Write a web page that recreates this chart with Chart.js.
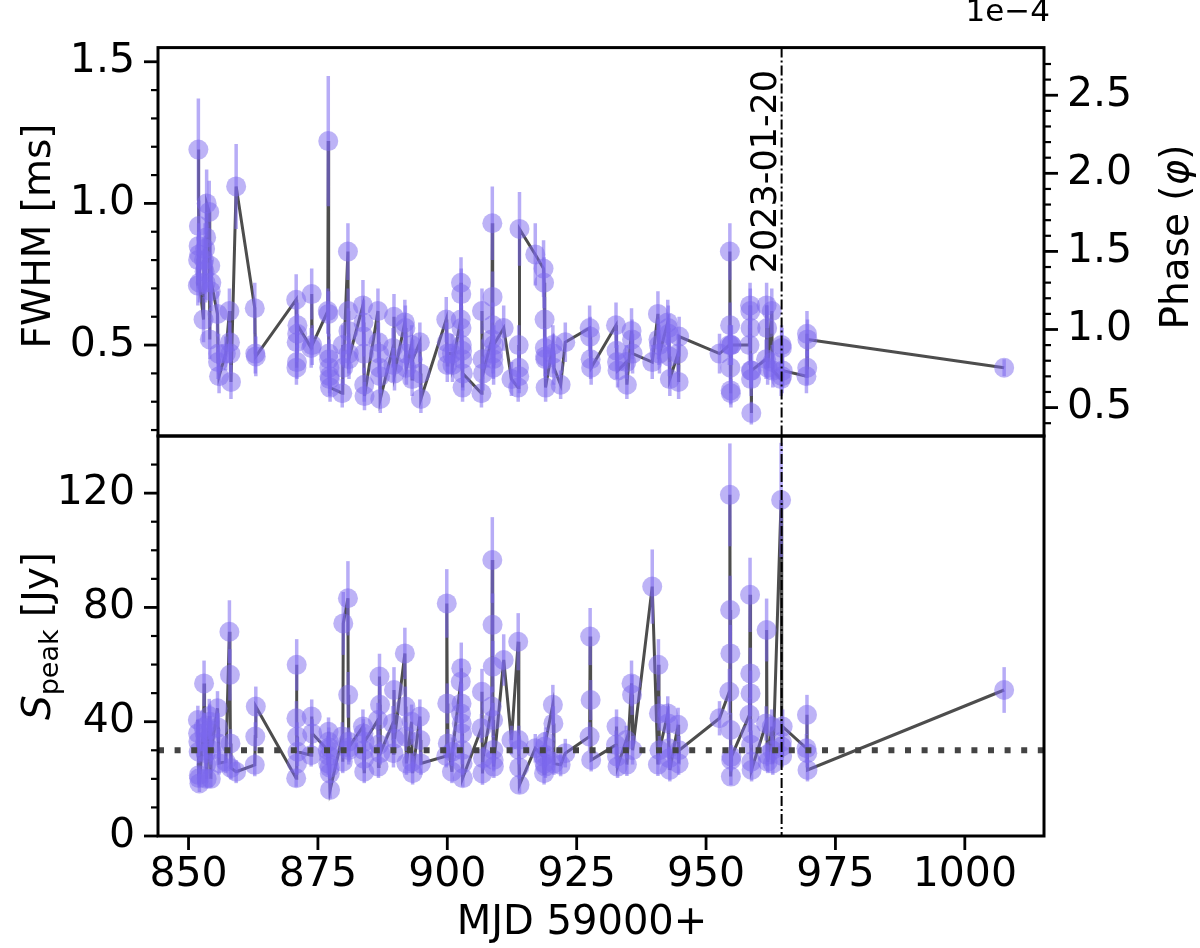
<!DOCTYPE html>
<html>
<head>
<meta charset="utf-8">
<script src="https://cdn.jsdelivr.net/npm/chart.js@4.4.1/dist/chart.umd.min.js"></script>
<style>
  html, body { margin: 0; background: #fff; }
  #wrap { position: relative; width: 1200px; height: 948px; }
  #wrap canvas { position: absolute; left: 0; top: 0; }
</style>
</head>
<body>
<div id="wrap">
  <canvas id="fwhmChart" width="1200" height="948"></canvas>
  <canvas id="speakChart" width="1200" height="948"></canvas>
</div>
<script>
// burst epochs (MJD - 59000), widths, peak flux densities and their errors
const mjd = [
  851.8, 851.85, 851.9, 851.95, 852.0, 852.05, 852.1,
  852.9, 853.0, 853.1, 853.2, 853.3, 853.4, 853.5,
  854.0, 854.1, 854.2, 854.3, 854.4,
  855.6, 855.7, 855.8, 855.9,
  857.2, 857.9, 858.0, 858.1, 858.2, 859.2,
  862.8, 862.9, 863.0,
  870.8, 870.85, 870.9, 870.95, 871.0, 871.05,
  873.7, 873.8, 873.9,
  876.9, 877.0, 877.05, 877.1, 877.15, 877.2, 877.25, 877.3, 877.35,
  879.7, 879.8, 879.9, 880.8, 880.85, 880.9, 880.95, 881.0,
  883.7, 883.8, 883.85, 883.9, 883.95, 884.0,
  886.6, 886.7, 886.8, 886.9, 887.0, 887.05,
  889.5, 889.6, 889.7, 889.8,
  891.8, 891.9, 892.0, 892.1,
  893.1, 893.2, 893.3,
  894.7, 894.8, 894.9,
  899.8, 899.9, 900.0, 900.1, 900.9, 901.0,
  902.6, 902.65, 902.7, 902.75, 902.8, 902.85, 902.9, 902.95, 903.0,
  906.6, 906.7, 906.8, 906.9,
  908.6, 908.7, 908.75, 908.8, 908.85, 908.9, 908.95, 909.0,
  910.9, 912.4,
  913.7, 913.8, 913.85, 913.9, 913.95,
  917.0, 918.6, 918.7, 918.8, 918.85, 918.9, 918.95, 919.0,
  920.4, 920.5, 920.6, 921.9, 922.8,
  927.5, 927.6, 927.7, 927.8,
  932.6, 932.7, 932.8, 932.9,
  934.6, 934.7, 935.6, 935.7, 935.8,
  939.6, 940.7, 940.8, 940.9, 941.0,
  942.6, 942.7, 942.8, 942.9, 943.0, 944.6, 944.7, 944.8,
  952.6,
  954.5, 954.6, 954.65, 954.7, 954.75, 954.8, 954.85, 954.9,
  958.4, 958.5, 958.55, 958.6, 958.65, 958.7, 958.75, 958.8,
  961.6, 961.7, 961.8, 961.9, 962.7, 962.8, 962.9,
  964.5, 964.6, 964.65, 964.7, 964.8,
  969.4, 969.5, 969.55, 969.6,
  1007.6
];
const fwhm = [
  0.71, 0.80, 1.19, 0.85, 0.92, 0.82, 0.72,
  0.59, 0.80, 0.76, 0.84, 0.72, 0.88, 1.00,
  0.97, 0.52, 0.78, 0.69, 0.72,
  0.61, 0.44, 0.47, 0.39,
  0.47, 0.62, 0.51, 0.47, 0.37, 1.06,
  0.63, 0.47, 0.46,
  0.66, 0.42, 0.51, 0.44, 0.54, 0.57,
  0.49, 0.68, 0.50,
  0.62, 1.22, 0.61, 0.47, 0.45, 0.42, 0.39, 0.38, 0.35,
  0.33, 0.50, 0.42, 0.83, 0.62, 0.55, 0.47, 0.45,
  0.64, 0.58, 0.53, 0.47, 0.36, 0.32,
  0.62, 0.51, 0.47, 0.42, 0.39, 0.31,
  0.49, 0.43, 0.60, 0.40,
  0.58, 0.56, 0.47, 0.42,
  0.50, 0.38, 0.45,
  0.51, 0.40, 0.31,
  0.59, 0.51, 0.43, 0.47, 0.47, 0.43,
  0.59, 0.72, 0.68, 0.56, 0.50, 0.48, 0.45, 0.35, 0.40,
  0.33, 0.62, 0.45, 0.40,
  0.52, 0.93, 0.67, 0.57, 0.47, 0.45, 0.42, 0.50,
  0.56, 0.38,
  0.35, 0.50, 0.42, 0.39, 0.91,
  0.82, 0.77, 0.72, 0.59, 0.49, 0.46, 0.45, 0.35,
  0.50, 0.47, 0.42, 0.36, 0.51,
  0.56, 0.53, 0.45, 0.42,
  0.57, 0.48, 0.44, 0.41,
  0.44, 0.36, 0.55, 0.52, 0.47,
  0.44, 0.61, 0.52, 0.50, 0.47,
  0.58, 0.56, 0.54, 0.46, 0.38, 0.47, 0.37, 0.53,
  0.47,
  0.50, 0.83, 0.57, 0.42, 0.34, 0.33, 0.50, 0.50,
  0.50, 0.64, 0.62, 0.56, 0.41, 0.38, 0.26, 0.41,
  0.45, 0.64, 0.56, 0.42, 0.62, 0.44, 0.41,
  0.38, 0.50, 0.49, 0.39, 0.41,
  0.39, 0.54, 0.42, 0.52,
  0.42
];
const fwhmErr = [
  .07, .08, .18, .08, .09, .08, .07,
  .08, .08, .08, .09, .07, .09, .12,
  .11, .07, .08, .07, .08,
  .08, .06, .07, .06,
  .06, .08, .07, .07, .06, .15,
  .09, .07, .07,
  .09, .06, .07, .06, .07, .08,
  .07, .09, .07,
  .08, .23, .08, .07, .07, .06, .06, .06, .05,
  .05, .07, .06, .10, .08, .08, .07, .07,
  .09, .08, .07, .07, .06, .05,
  .08, .07, .07, .06, .06, .05,
  .07, .06, .08, .06,
  .08, .08, .07, .06,
  .07, .06, .07,
  .07, .06, .05,
  .08, .07, .06, .07, .07, .06,
  .08, .09, .09, .08, .07, .07, .07, .05, .06,
  .05, .08, .07, .06,
  .07, .13, .09, .08, .07, .07, .06, .07,
  .08, .06,
  .05, .07, .06, .06, .13,
  .11, .10, .09, .08, .07, .07, .07, .05,
  .07, .07, .06, .05, .07,
  .08, .07, .07, .06,
  .08, .07, .06, .06,
  .06, .05, .08, .07, .07,
  .06, .08, .07, .07, .07,
  .08, .08, .07, .07, .06, .07, .06, .07,
  .07,
  .07, .10, .08, .06, .05, .05, .07, .07,
  .07, .08, .08, .08, .06, .06, .04, .06,
  .07, .08, .08, .06, .08, .06, .06,
  .06, .07, .07, .06, .06,
  .06, .08, .06, .07,
  .03
];
const speak = [
  40.6, 36.0, 33.0, 29.5, 21.3, 20.2, 18.4,
  38.0, 53.4, 36.0, 33.0, 29.0, 25.0, 20.0,
  42.0, 40.0, 37.0, 20.0, 30.0,
  44.7, 38.0, 32.4, 25.5,
  26.0, 71.5, 56.4, 32.4, 23.8, 22.5,
  24.9, 34.8, 45.3,
  20.2, 41.2, 59.9, 25.4, 34.8, 29.5,
  28.3, 41.8, 35.9,
  30.1, 25.4, 36.5, 33.0, 28.0, 31.0, 24.0, 21.9, 16.1,
  34.8, 26.0, 74.4, 83.2, 49.4, 33.0, 30.0, 31.0,
  38.3, 35.9, 30.0, 27.0, 22.5, 33.0,
  40.6, 24.3, 32.0, 55.8, 45.9, 29.0,
  39.5, 29.0, 51.1, 34.0,
  63.9, 45.3, 34.8, 25.4,
  40.0, 26.0, 22.0,
  41.8, 33.6, 25.4,
  28.0, 81.4, 46.4, 32.4, 22.5, 29.5,
  54.0, 42.9, 58.7, 46.4, 39.4, 35.9, 30.1, 25.4, 20.2,
  37.7, 50.5, 21.9, 27.2,
  45.3, 96.6, 73.9, 59.3, 40.6, 30.1, 26.6, 24.3,
  61.6, 33.6,
  68.0, 33.6, 30.1, 24.0, 17.9,
  30.7, 27.8, 22.0, 25.4, 31.3, 28.4, 24.3, 33.0,
  45.9, 39.4, 25.4, 24.9, 29.0,
  34.8, 69.8, 47.6, 26.6,
  31.9, 38.3, 27.8, 24.3,
  33.6, 25.0, 53.4, 49.4, 30.0,
  87.3, 25.0, 59.9, 42.9, 30.0,
  42.9, 39.4, 30.7, 27.2, 23.1, 38.9, 25.4, 30.0,
  41.2,
  50.5, 119.4, 79.1, 63.9, 37.1, 20.8, 26.6, 27.8,
  42.4, 84.4, 56.9, 49.9, 35.9, 31.9, 26.0, 23.1,
  39.4, 72.1, 28.4, 26.0, 38.3, 30.0, 25.4,
  117.6, 31.3, 33.0, 28.0, 38.3,
  30.7, 42.4, 29.0, 23.1,
  51.1
];
const speakErr = [
  5, 5, 5, 4, 3, 3, 3,
  5, 8, 5, 5, 5, 4, 3,
  6, 6, 5, 3, 5,
  6, 5, 5, 4,
  4, 11, 9, 5, 4, 4,
  4, 5, 7,
  3, 6, 9, 4, 5, 5,
  4, 6, 5,
  5, 4, 5, 5, 4, 5, 4, 3, 3,
  5, 4, 11, 13, 8, 5, 5, 5,
  6, 5, 5, 4, 4, 5,
  6, 4, 5, 8, 7, 4,
  6, 5, 8, 5,
  9, 7, 5, 4,
  6, 4, 4,
  6, 5, 4,
  4, 12, 7, 5, 4, 5,
  8, 6, 9, 7, 6, 5, 5, 4, 3,
  5, 8, 4, 4,
  7, 15, 11, 9, 6, 5, 4, 4,
  9, 5,
  10, 5, 5, 4, 3,
  5, 4, 4, 4, 5, 4, 4, 5,
  7, 6, 4, 4, 5,
  5, 10, 7, 4,
  5, 6, 4, 4,
  5, 4, 8, 7, 5,
  13, 4, 9, 6, 5,
  6, 6, 5, 4, 4, 6, 4, 5,
  6,
  8, 18, 12, 10, 6, 3, 4, 4,
  6, 13, 9, 8, 5, 5, 4, 4,
  6, 11, 4, 4, 6, 5, 4,
  20, 5, 5, 4, 6,
  5, 7, 5, 4,
  8
];

const xTicks = [850, 875, 900, 925, 950, 975, 1000];
const fwhmTicks = [0.5, 1.0, 1.5];
const fwhmMinor = [0.2, 0.3, 0.4, 0.6, 0.7, 0.8, 0.9, 1.1, 1.2, 1.3, 1.4];
const phaseTicks = [0.5, 1.0, 1.5, 2.0, 2.5];
const phaseMinor = [0.4, 0.6, 0.7, 0.8, 0.9, 1.1, 1.2, 1.3, 1.4, 1.6, 1.7, 1.8, 1.9,
                    2.1, 2.2, 2.3, 2.4, 2.6, 2.7];
const speakTicks = [0, 40, 80, 120];
const speakMinor = [10, 20, 30, 50, 60, 70, 90, 100, 110, 130];

const eventMjd = 964.6;
const eventLabel = '2023-01-20';
const thresholdJy = 30;

// axis limits
const X_MIN = 844.1, X_MAX = 1015.3;
const FWHM_MIN = 0.179, FWHM_MAX = 1.55;
const PHASE_MIN = 0.318, PHASE_MAX = 2.805;
const S_MIN = 0, S_MAX = 140;

const FONT = 'DejaVu Sans';
const PURPLE = 'rgba(123, 104, 238, 0.5)';
const BAR = 'rgba(123, 104, 238, 0.55)';
const GREY = '#4d4d4d';
const TITLE_FONT = '39px "' + FONT + '"';

Chart.defaults.font.family = FONT;

function rotatedText(ctx, cx, cy, parts) {
  // parts drawn along a line that reads bottom -> top, centred on (cx, cy)
  ctx.save();
  ctx.translate(cx, cy);
  ctx.rotate(-Math.PI / 2);
  ctx.textBaseline = 'alphabetic';
  ctx.textAlign = 'left';
  let total = 0;
  parts.forEach(p => { ctx.font = p.font; p.w = ctx.measureText(p.text).width; total += p.w; });
  let x = -total / 2;
  parts.forEach(p => {
    ctx.font = p.font;
    ctx.fillStyle = '#000';
    ctx.fillText(p.text, x, p.dy || 0);
    x += p.w;
  });
  ctx.restore();
}

function drawTicks(ctx, scale, values, len, width, side, area) {
  ctx.save();
  ctx.strokeStyle = '#000';
  ctx.lineWidth = width;
  values.forEach(v => {
    const p = scale.getPixelForValue(v);
    ctx.beginPath();
    if (side === 'left') { ctx.moveTo(area.left - len, p); ctx.lineTo(area.left, p); }
    if (side === 'right') { ctx.moveTo(area.right, p); ctx.lineTo(area.right + len, p); }
    if (side === 'bottom') { ctx.moveTo(p, area.bottom); ctx.lineTo(p, area.bottom + len); }
    ctx.stroke();
  });
  ctx.restore();
}

const panelDecor = {
  id: 'panelDecor',
  beforeDatasetDraw(chart, args, opts) {
    if (args.index !== 1) return;
    const { ctx, chartArea: a } = chart;
    const x = chart.scales.x, y = chart.scales.y;
    ctx.save();
    ctx.beginPath();
    ctx.rect(a.left, a.top, a.right - a.left, a.bottom - a.top);
    ctx.clip();
    ctx.strokeStyle = BAR;
    ctx.lineWidth = 3.5;
    ctx.lineCap = 'butt';
    opts.vals.forEach((v, i) => {
      const px = x.getPixelForValue(mjd[i]);
      ctx.beginPath();
      ctx.moveTo(px, y.getPixelForValue(v - opts.err[i]));
      ctx.lineTo(px, y.getPixelForValue(v + opts.err[i]));
      ctx.stroke();
    });
    ctx.restore();
  },
  afterDatasetsDraw(chart, args, opts) {
    const { ctx, chartArea: a } = chart;
    const x = chart.scales.x, y = chart.scales.y;
    ctx.save();
    if (opts.threshold !== undefined) {
      const py = y.getPixelForValue(opts.threshold);
      ctx.strokeStyle = '#444444';
      ctx.lineWidth = 6;
      ctx.setLineDash([6, 10.6]);
      ctx.beginPath();
      ctx.moveTo(a.left, py);
      ctx.lineTo(a.right, py);
      ctx.stroke();
    }
    const ex = x.getPixelForValue(eventMjd);
    ctx.strokeStyle = '#000';
    ctx.lineWidth = 2;
    ctx.setLineDash([10, 3, 2, 3]);
    ctx.beginPath();
    ctx.moveTo(ex, a.top);
    ctx.lineTo(ex, a.bottom);
    ctx.stroke();
    ctx.restore();
    if (opts.eventText) {
      rotatedText(ctx, ex - 6, a.top + 124, [{ text: eventLabel, font: '35px "' + FONT + '"' }]);
    }
  },
  afterDraw(chart, args, opts) {
    const { ctx, chartArea: a } = chart;
    // frame
    ctx.save();
    ctx.strokeStyle = '#000';
    ctx.lineWidth = 3;
    ctx.strokeRect(a.left, a.top, a.right - a.left, a.bottom - a.top);
    ctx.restore();
    opts.ticks.forEach(t => {
      const sc = chart.scales[t.scale];
      drawTicks(ctx, sc, t.major, 14, 2.8, t.side, a);
      if (t.minor) drawTicks(ctx, sc, t.minor, 7, 2.2, t.side, a);
    });
    opts.titles.forEach(t => rotatedText(ctx, t.x, t.y, t.parts));
    if (opts.offsetText) {
      ctx.save();
      ctx.font = '31px "' + FONT + '"';
      ctx.fillStyle = '#000';
      ctx.textAlign = 'right';
      ctx.textBaseline = 'alphabetic';
      ctx.fillText(opts.offsetText, 1050, 21);
      ctx.restore();
    }
    if (opts.xTitle) {
      ctx.save();
      ctx.font = '40px "' + FONT + '"';
      ctx.fillStyle = '#000';
      ctx.textAlign = 'center';
      ctx.textBaseline = 'alphabetic';
      ctx.fillText(opts.xTitle, 582, 934);
      ctx.restore();
    }
  }
};

const tickFont = { family: FONT, size: 41 };

function yAxis(position, min, max, ticks, fmt) {
  return {
    type: 'linear',
    position: position,
    min: min,
    max: max,
    afterFit: s => { s.width = position === 'left' ? 158 : 156; },
    afterBuildTicks: s => { s.ticks = ticks.map(v => ({ value: v })); },
    grid: { display: false, drawTicks: false },
    border: { display: false },
    ticks: { padding: 23, color: '#000', font: tickFont, callback: fmt }
  };
}

function points(vals) {
  return mjd.map((m, i) => ({ x: m, y: vals[i] }));
}

function datasets(vals) {
  return [
    {
      data: points(vals),
      showLine: true,
      borderColor: GREY,
      borderWidth: 3,
      pointRadius: 0,
      fill: false,
      order: 2
    },
    {
      data: points(vals),
      showLine: false,
      pointRadius: 10,
      pointBackgroundColor: PURPLE,
      pointBorderWidth: 0,
      order: 1
    }
  ];
}

const common = {
  responsive: false,
  animation: false,
  events: [],
  plugins: { legend: { display: false }, tooltip: { enabled: false } }
};

new Chart(document.getElementById('fwhmChart'), {
  type: 'scatter',
  data: { datasets: datasets(fwhm) },
  options: {
    ...common,
    layout: { padding: { left: 0, right: 0, top: 36, bottom: 512 } },
    scales: {
      x: { type: 'linear', min: X_MIN, max: X_MAX, display: false },
      y: yAxis('left', FWHM_MIN, FWHM_MAX, fwhmTicks, v => v.toFixed(1)),
      phase: yAxis('right', PHASE_MIN, PHASE_MAX, phaseTicks, v => v.toFixed(1))
    },
    plugins: {
      ...common.plugins,
      panelDecor: {
        vals: fwhm,
        err: fwhmErr,
        eventText: true,
        ticks: [
          { scale: 'y', side: 'left', major: fwhmTicks, minor: fwhmMinor },
          { scale: 'phase', side: 'right', major: phaseTicks, minor: phaseMinor }
        ],
        titles: [
          { x: 36, y: 236, parts: [{ text: 'FWHM [ms]', font: TITLE_FONT, dy: 14 }] },
          { x: 1174, y: 237, parts: [
            { text: 'Phase (', font: TITLE_FONT, dy: 14 },
            { text: '\u03c6', font: 'italic 39px "' + FONT + '"', dy: 14 },
            { text: ')', font: TITLE_FONT, dy: 14 }
          ] }
        ],
        offsetText: '1e\u22124'
      }
    }
  },
  plugins: [panelDecor]
});

new Chart(document.getElementById('speakChart'), {
  type: 'scatter',
  data: { datasets: datasets(speak) },
  options: {
    ...common,
    layout: { padding: { left: 0, right: 156, top: 436, bottom: 0 } },
    scales: {
      x: {
        type: 'linear',
        min: X_MIN,
        max: X_MAX,
        afterFit: s => { s.height = 112; },
        afterBuildTicks: s => { s.ticks = xTicks.map(v => ({ value: v })); },
        grid: { display: false, drawTicks: false },
        border: { display: false },
        ticks: { padding: 15, color: '#000', font: tickFont, autoSkip: false, maxRotation: 0,
                 callback: v => String(v) }
      },
      y: yAxis('left', S_MIN, S_MAX, speakTicks, v => String(v))
    },
    plugins: {
      ...common.plugins,
      panelDecor: {
        vals: speak,
        err: speakErr,
        threshold: thresholdJy,
        ticks: [
          { scale: 'y', side: 'left', major: speakTicks, minor: speakMinor },
          { scale: 'x', side: 'bottom', major: xTicks }
        ],
        titles: [
          { x: 36, y: 636, parts: [
            { text: 'S', font: 'italic 39px "' + FONT + '"', dy: 14 },
            { text: 'peak', font: '27px "' + FONT + '"', dy: 22 },
            { text: ' [Jy]', font: TITLE_FONT, dy: 14 }
          ] }
        ],
        xTitle: 'MJD 59000+'
      }
    }
  },
  plugins: [panelDecor]
});
</script>
</body>
</html>
